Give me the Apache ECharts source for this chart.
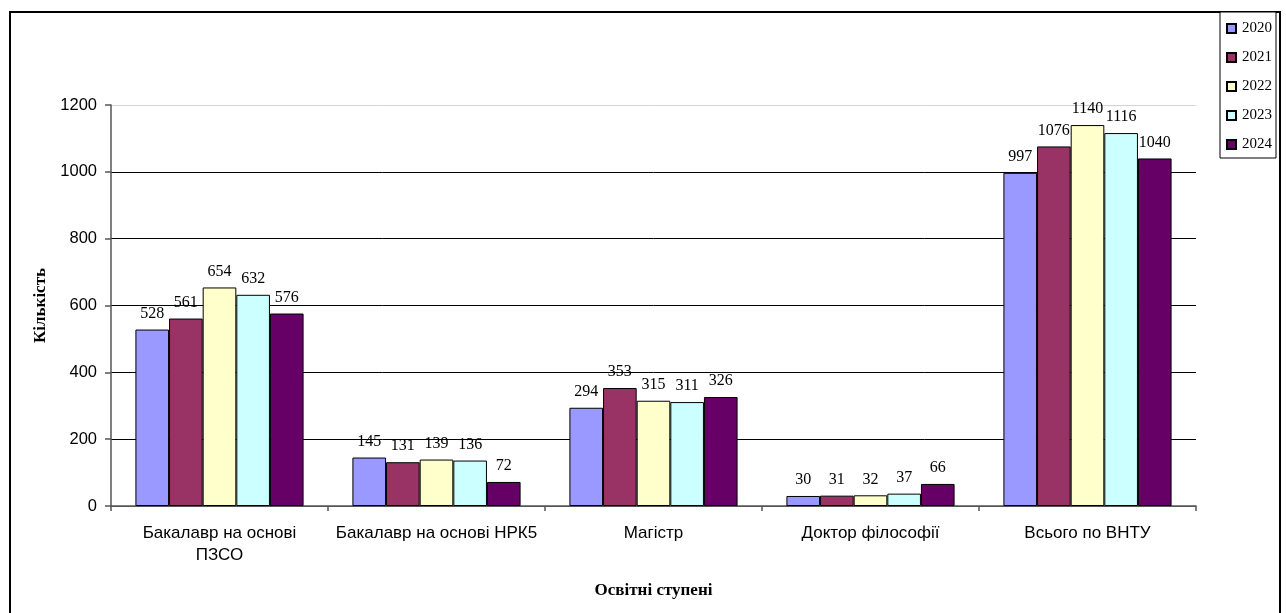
<!DOCTYPE html>
<html><head><meta charset="utf-8">
<script src="https://cdn.jsdelivr.net/npm/echarts@6/dist/echarts.min.js"></script>
<style>html,body{margin:0;padding:0;background:#fff}#c{width:1286px;height:613px}</style>
</head><body><div id="c"></div>
<script>
const categories = ['Бакалавр на основі\nПЗСО', 'Бакалавр на основі НРК5', 'Магістр', 'Доктор філософії', 'Всього по ВНТУ'];
const years = ['2020', '2021', '2022', '2023', '2024'];
const v2020 = [528, 145, 294, 30, 997];
const v2021 = [561, 131, 353, 31, 1076];
const v2022 = [654, 139, 315, 32, 1140];
const v2023 = [632, 136, 311, 37, 1116];
const v2024 = [576, 72, 326, 66, 1040];
const seriesValues = [v2020, v2021, v2022, v2023, v2024];
const colors = ['#9999FF', '#993366', '#FFFFCC', '#CCFFFF', '#660066'];
const yTicks = [0, 200, 400, 600, 800, 1000, 1200];

const chart = echarts.init(document.getElementById('c'));
chart.setOption({
  animation: false,
  backgroundColor: '#fff',
  graphic: [{
    type: 'rect', shape: { x: 10, y: 12, width: 1270, height: 620 },
    style: { fill: 'none', stroke: '#000', lineWidth: 2 }, z: -1
  }],
  legend: {
    orient: 'vertical', left: 1220, top: 12,
    data: years,
    backgroundColor: '#fff', borderColor: '#000', borderWidth: 1,
    padding: [9, 4, 6, 6], itemGap: 14, itemWidth: 9, itemHeight: 9,
    icon: 'rect',
    textStyle: { fontFamily: 'Liberation Serif', fontSize: 15, color: '#000', padding: [0, 0, 0, 1] }
  },
  grid: { left: 111, right: 90, top: 105, bottom: 107 },
  xAxis: {
    type: 'category', data: categories,
    name: 'Освітні ступені', nameLocation: 'middle', nameGap: 76,
    nameTextStyle: { fontFamily: 'Liberation Serif', fontWeight: 'bold', fontSize: 17, color: '#000' },
    axisLine: { lineStyle: { color: '#555', width: 1.5 } },
    axisTick: { show: true, interval: 0, length: 5, lineStyle: { color: '#555', width: 1.5 } },
    axisLabel: { interval: 0, fontFamily: 'Liberation Sans', fontSize: 17, color: '#000', margin: 16, lineHeight: 22 }
  },
  yAxis: {
    type: 'value', min: 0, max: 1200, interval: 200,
    name: 'Кількість', nameLocation: 'middle', nameGap: 62, nameRotate: 90,
    nameTextStyle: { fontFamily: 'Liberation Serif', fontWeight: 'bold', fontSize: 17, color: '#000' },
    axisLine: { show: true, lineStyle: { color: '#555', width: 1.5 } },
    axisTick: { show: true, length: 6, lineStyle: { color: '#555', width: 1.5 } },
    axisLabel: { fontFamily: 'Liberation Sans', fontSize: 16.5, color: '#000', margin: 14,
      formatter: v => yTicks.includes(v) ? String(v) : '' },
    splitLine: { show: true, lineStyle: { color: ['#555', '#000', '#000', '#000', '#000', '#000', '#d4d4d4'], width: 1 } }
  },
  series: years.map((y, i) => ({
    name: y, type: 'bar', data: seriesValues[i],
    barGap: '0%', barCategoryGap: '22.5%',
    itemStyle: { color: colors[i], borderColor: '#000', borderWidth: 1 },
    label: { show: true, position: 'top', distance: 8, fontFamily: 'Liberation Serif', fontSize: 16, color: '#000' }
  }))
});
</script></body></html>
